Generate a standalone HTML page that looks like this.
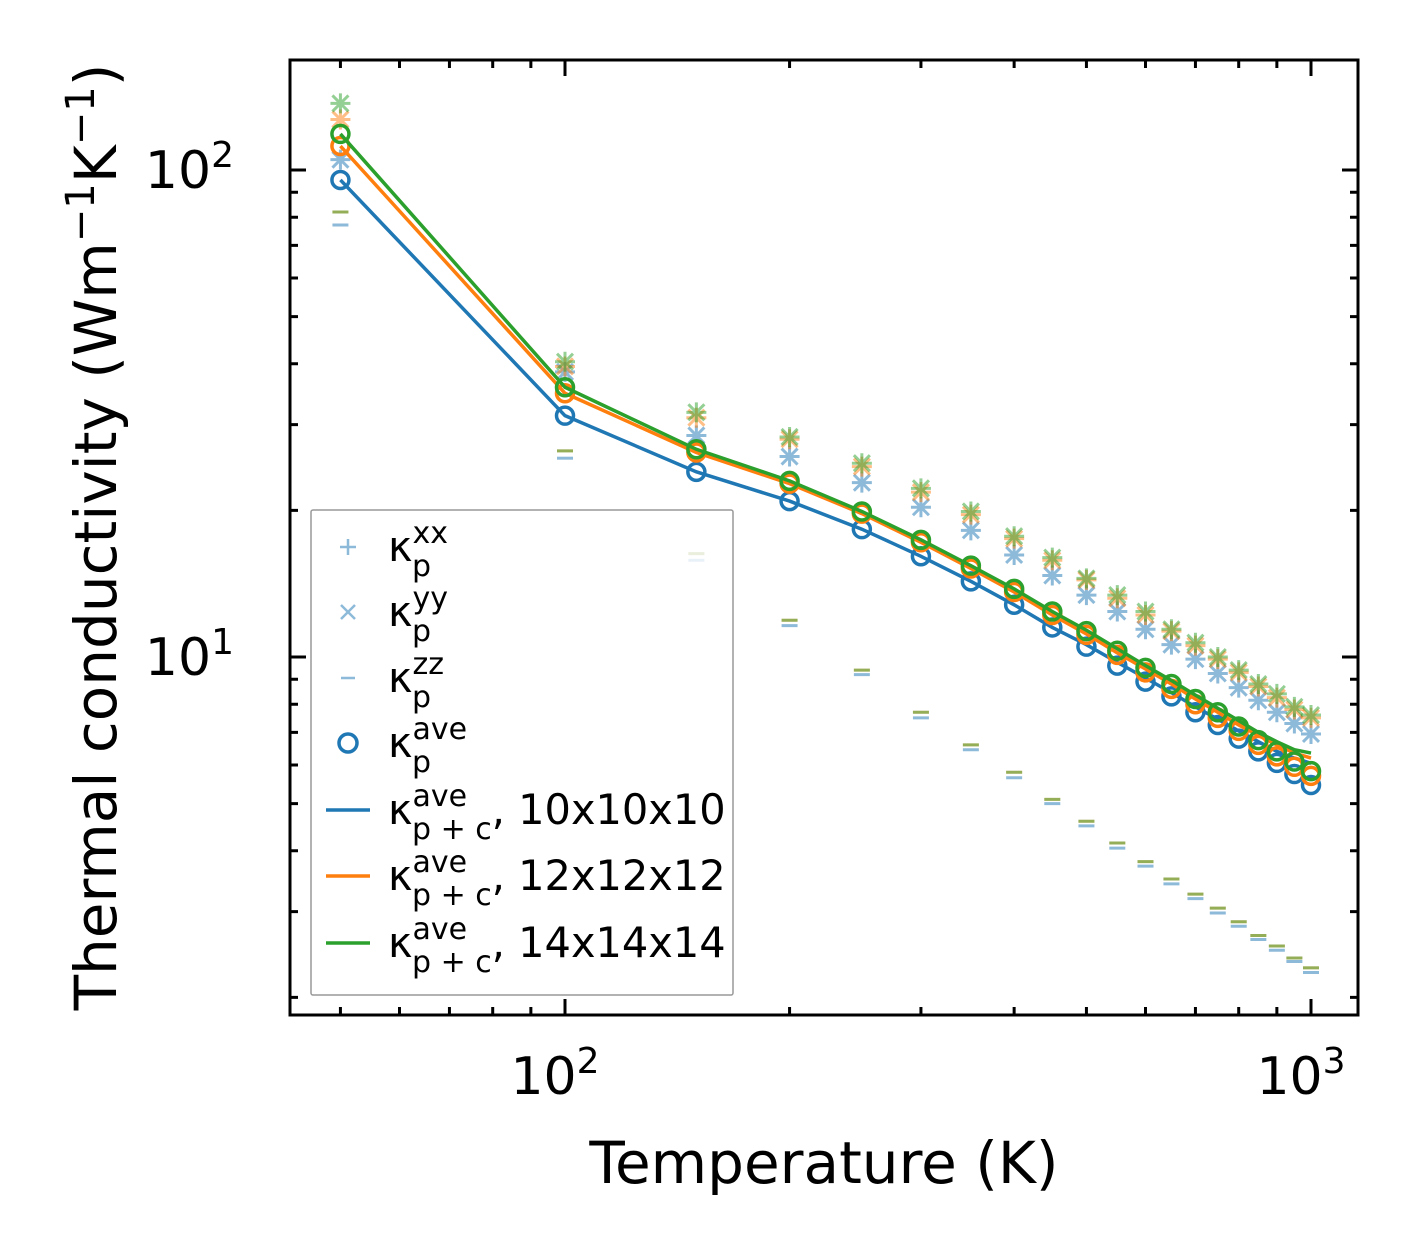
<!DOCTYPE html>
<html><head><meta charset="utf-8"><style>
body{margin:0;background:#fff}
svg{display:block;font-family:"DejaVu Sans","Liberation Sans",sans-serif}
</style></head><body>
<svg id="chart" width="1420" height="1254" viewBox="0 0 1420 1254" xmlns="http://www.w3.org/2000/svg">
<rect width="1420" height="1254" fill="#fff"/>
<g id="marks"></g>
<g id="axes"></g>
<text x="824" y="1183" font-size="58" text-anchor="middle">Temperature (K)</text>
<text transform="translate(116,537) rotate(-90)" font-size="58" text-anchor="middle">Thermal conductivity (Wm<tspan dy="-22" font-size="40">−1</tspan><tspan dy="22">K</tspan><tspan dy="-22" font-size="40">−1</tspan><tspan dy="22">)</tspan></text>
<g id="legend"></g>
</svg>
<script>
const temps=[50,100,150,200,250,300,350,400,450,500,550,600,650,700,750,800,850,900,950,1000];
const aveBlue=[95.4,31.3,24.0,20.9,18.3,16.1,14.3,12.8,11.5,10.5,9.6,8.9,8.3,7.7,7.25,6.8,6.4,6.06,5.75,5.46];
const aveOrange=[112,34.8,26.3,22.7,19.7,17.2,15.2,13.6,12.2,11.1,10.1,9.3,8.6,8.0,7.5,7.05,6.6,6.25,5.95,5.7];
const aveGreen=[118.6,35.8,26.7,23.0,19.9,17.4,15.4,13.8,12.4,11.3,10.3,9.5,8.8,8.2,7.7,7.2,6.75,6.4,6.1,5.83];
const lineBlue=[95.4,31.3,24.0,20.9,18.3,16.1,14.3,12.8,11.5,10.6,9.75,9.05,8.45,7.9,7.45,7.05,6.7,6.4,6.2,6.05];
const lineOrange=[112,34.8,26.3,22.7,19.7,17.2,15.2,13.6,12.2,11.15,10.2,9.45,8.8,8.2,7.7,7.25,6.9,6.6,6.35,6.2];
const lineGreen=[118.6,35.8,26.7,23.0,19.9,17.4,15.4,13.8,12.4,11.35,10.4,9.6,8.95,8.35,7.85,7.4,7.0,6.7,6.45,6.35];
const inBlue=[105,38.5,28.5,25.8,22.8,20.3,18.2,16.2,14.7,13.4,12.4,11.4,10.6,9.9,9.25,8.65,8.15,7.7,7.3,6.95];
const inOrange=[127,39.5,31.0,28.0,24.6,21.8,19.6,17.5,15.8,14.4,13.2,12.2,11.3,10.55,9.9,9.3,8.7,8.25,7.8,7.5];
const inGreen=[137,40.4,31.8,28.3,25.0,22.2,19.9,17.7,16.0,14.5,13.4,12.4,11.4,10.7,10.0,9.4,8.8,8.4,7.9,7.6];
const zzBlue=[77.1,25.6,15.8,11.6,9.2,7.5,6.45,5.65,5.0,4.5,4.05,3.72,3.42,3.19,2.98,2.8,2.63,2.5,2.37,2.25];
const zzOrange=[82,26.5,16.3,11.9,9.4,7.7,6.6,5.8,5.1,4.6,4.15,3.8,3.5,3.26,3.05,2.86,2.68,2.55,2.41,2.3];
const zzGreen=[82,26.5,16.3,11.9,9.4,7.7,6.6,5.8,5.1,4.6,4.15,3.8,3.5,3.26,3.05,2.86,2.68,2.55,2.41,2.3];
const xTickLabels=["2","3"];
const yTickLabels=["1","2"];

const L=290,R=1358,T=60,B=1015;
const X=v=>565+746*(Math.log10(v)-2);
const Y=v=>170-487*(Math.log10(v)-2);
const NS="http://www.w3.org/2000/svg";
function mk(tag,attrs,parent){const e=document.createElementNS(NS,tag);for(const k in attrs)e.setAttribute(k,attrs[k]);parent.appendChild(e);return e;}
const marks=document.getElementById('marks');
const C={b:"#1f77b4",o:"#ff7f0e",g:"#2ca02c"};
const sets=[[C.b,aveBlue,lineBlue,inBlue,zzBlue,'blue'],[C.o,aveOrange,lineOrange,inOrange,zzOrange,'orange'],[C.g,aveGreen,lineGreen,inGreen,zzGreen,'green']];
sets.forEach(([col,ave,ln,inp,zz,nm])=>{
  temps.forEach((t,i)=>{
    const x=X(t),yi=Y(inp[i]),yz=Y(zz[i]);
    const g=mk('g',{stroke:col,'stroke-width':3,opacity:0.5},marks);
    
    
    mk('path',{d:`M${x-10} ${yi}H${x+10}M${x} ${yi-10}V${yi+10}M${x-8} ${yi-8}L${x+8} ${yi+8}M${x-8} ${yi+8}L${x+8} ${yi-8}`},g);
    const z=mk('path',{d:`M${x-8} ${yz}H${x+8}`,stroke:col,'stroke-width':3,opacity:0.5},marks);
    
    
  });
});
sets.forEach(([col,ave,ln,inp,zz,nm])=>{
  const p=mk('polyline',{points:temps.map((t,i)=>X(t)+','+Y(ln[i])).join(' '),fill:'none',stroke:col,'stroke-width':3.5},marks);
  
  
  temps.forEach((t,i)=>{
    const c=mk('circle',{cx:X(t),cy:Y(ave[i]),r:8.5,fill:'none',stroke:col,'stroke-width':3.5},marks);
    
    
  });
});
const ax=document.getElementById('axes');
const fr=mk('rect',{x:L,y:T,width:R-L,height:B-T,fill:'none',stroke:'#000','stroke-width':3},ax);


let d='';
for(let dec=1;dec<=3;dec++)for(let m=1;m<10;m++){const v=m*Math.pow(10,dec);const x=X(v);if(x<L||x>R)continue;const len=m==1?16:8;d+=`M${x} ${B}V${B-len}M${x} ${T}V${T+len}`;}
for(let dec=0;dec<=2;dec++)for(let m=1;m<10;m++){const v=m*Math.pow(10,dec);const y=Y(v);if(y<T||y>B)continue;const len=m==1?16:8;d+=`M${L} ${y}H${L+len}M${R} ${y}H${R-len}`;}
const tk=mk('path',{d,stroke:'#000','stroke-width':3},ax);


xTickLabels.forEach(s=>{const x=X(Math.pow(10,+s));
  const t=mk('text',{x:x-10,y:1094,'font-size':52,'text-anchor':'middle'},ax);
  
  
  t.innerHTML=`10<tspan dy="-21" font-size="36">${s}</tspan>`;});
yTickLabels.forEach(s=>{const y=Y(Math.pow(10,+s));
  const t=mk('text',{x:234,y:y+18,'font-size':52,'text-anchor':'end'},ax);
  
  
  t.innerHTML=`10<tspan dy="-21" font-size="36">${s}</tspan>`;});
// legend
const lg=document.getElementById('legend');
mk('rect',{x:311,y:510,width:422,height:485,fill:'#fff','fill-opacity':0.8,stroke:'#999','stroke-width':1.5,rx:2},lg);
const rows=[547,612,678,743,810,876,943];
const sups=['xx','yy','zz','ave','ave','ave','ave'];
const subs=['p','p','p','p','p + c','p + c','p + c'];
const tails=['','','','',', 10x10x10',', 12x12x12',', 14x14x14'];
rows.forEach((y,i)=>{
  const g=mk('g',{},lg);
  
  
  if(i==0)mk('path',{d:`M${340} ${y}H${356}M348 ${y-8}V${y+8}`,stroke:C.b,'stroke-width':2.5,opacity:0.5},g);
  if(i==1)mk('path',{d:`M341 ${y-7}L355 ${y+7}M341 ${y+7}L355 ${y-7}`,stroke:C.b,'stroke-width':2.5,opacity:0.5},g);
  if(i==2)mk('path',{d:`M341 ${y}H355`,stroke:C.b,'stroke-width':2.5,opacity:0.5},g);
  if(i==3)mk('circle',{cx:348,cy:y,r:9,fill:'none',stroke:C.b,'stroke-width':3.5},g);
  if(i>=4)mk('path',{d:`M326 ${y}H370`,stroke:[C.b,C.o,C.g][i-4],'stroke-width':3.5},g);
  const t=mk('text',{x:388,y:y+14,'font-size':41.5},g);
  t.innerHTML=`κ<tspan dy="-18" font-size="30">${sups[i]}</tspan><tspan x="${388+24}" dy="33" font-size="30">${subs[i]}</tspan><tspan dy="-15">${tails[i]}</tspan>`;
});
</script>
</body></html>
